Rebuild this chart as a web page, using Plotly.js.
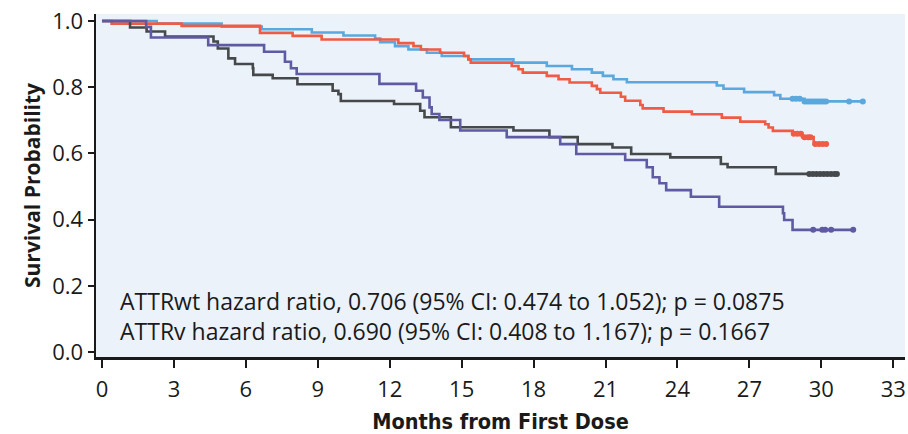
<!DOCTYPE html>
<html>
<head>
<meta charset="utf-8">
<script src="https://cdn.plot.ly/plotly-3.0.1.min.js"></script>
<style>html,body{margin:0;padding:0;background:#fff;}#chart{width:908px;height:434px;}</style>
</head>
<body>
<div id="chart"></div>
<script>
// ---- data ----
const wtTreatTimes = [0, 2.28, 4.99, 6.66, 8.75, 10.07, 11.39, 11.6, 12.22, 12.78, 13.55, 14.17, 15.28, 17.16, 18.55, 19.6, 20.43, 20.89, 21.33, 21.89, 25.64, 25.92, 26.78, 28.03, 28.29, 29.3, 31.73];
const wtTreatSurv  = [1.0, 0.992, 0.983, 0.975, 0.965, 0.956, 0.947, 0.936, 0.924, 0.914, 0.904, 0.894, 0.884, 0.874, 0.864, 0.854, 0.844, 0.834, 0.824, 0.815, 0.805, 0.795, 0.785, 0.776, 0.765, 0.757, 0.757];
const wtTreatCensor = [28.8, 28.95, 29.1, 29.3, 29.4, 29.5, 29.6, 29.7, 29.8, 29.9, 30.0, 30.1, 30.2, 31.16, 31.73];

const wtPlacTimes = [0, 0.4, 3.32, 6.59, 7.95, 9.16, 12.36, 12.99, 13.3, 14.1, 15.1, 15.28, 15.38, 17.09, 17.37, 17.55, 18.55, 19.04, 19.5, 20.43, 20.64, 20.78, 21.64, 21.82, 22.45, 22.55, 23.42, 24.6, 25.85, 26.62, 27.66, 27.8, 27.98, 28.81, 29.2, 29.68, 30.2];
const wtPlacSurv  = [1.0, 0.992, 0.985, 0.964, 0.955, 0.944, 0.933, 0.924, 0.914, 0.904, 0.894, 0.884, 0.874, 0.864, 0.854, 0.844, 0.834, 0.824, 0.814, 0.804, 0.794, 0.783, 0.771, 0.759, 0.746, 0.736, 0.726, 0.718, 0.708, 0.696, 0.688, 0.678, 0.668, 0.659, 0.649, 0.628, 0.628];
const wtPlacCensor = [28.85, 29.0, 29.15, 29.3, 29.45, 29.55, 29.75, 29.9, 30.05, 30.2];

const vTreatTimes = [0, 1.17, 1.86, 2.63, 4.65, 4.83, 5.27, 5.55, 6.29, 6.31, 7.12, 8.15, 9.62, 9.86, 9.96, 12.18, 13.27, 13.45, 14.55, 17.16, 18.66, 19.84, 21.29, 22.07, 23.7, 25.81, 26.09, 28.1, 30.65];
const vTreatSurv  = [1.0, 0.980, 0.968, 0.953, 0.938, 0.917, 0.887, 0.870, 0.857, 0.837, 0.827, 0.809, 0.789, 0.779, 0.758, 0.749, 0.729, 0.709, 0.679, 0.669, 0.649, 0.628, 0.618, 0.598, 0.588, 0.568, 0.558, 0.538, 0.538];
const vTreatCensor = [29.5, 29.65, 29.8, 29.95, 30.1, 30.25, 30.4, 30.55, 30.65];

const vPlacTimes = [0, 1.84, 2.04, 4.43, 6.76, 7.63, 7.88, 8.12, 11.57, 13.1, 13.38, 13.66, 13.75, 14.07, 14.94, 16.88, 19.11, 19.78, 21.82, 22.72, 22.97, 23.25, 23.53, 24.56, 25.74, 28.4, 28.45, 28.8, 31.35];
const vPlacSurv  = [1.0, 0.982, 0.950, 0.927, 0.907, 0.877, 0.857, 0.840, 0.810, 0.789, 0.769, 0.739, 0.719, 0.701, 0.669, 0.649, 0.628, 0.598, 0.580, 0.558, 0.528, 0.510, 0.489, 0.469, 0.439, 0.419, 0.399, 0.369, 0.369];
const vPlacCensor = [29.66, 30.04, 30.16, 30.41, 31.33];

const xTicks = [0, 3, 6, 9, 12, 15, 18, 21, 24, 27, 30, 33];
const yTicks = [0, 0.2, 0.4, 0.6, 0.8, 1.0];
const annotLines = [
  "ATTRwt hazard ratio, 0.706 (95% CI: 0.474 to 1.052); p = 0.0875",
  "ATTRv hazard ratio, 0.690 (95% CI: 0.408 to 1.167); p = 0.1667"
];

// ---- build ----
function survAt(times, surv, t) {
  let v = surv[0];
  for (let i = 0; i < times.length; i++) { if (times[i] <= t) v = surv[i]; }
  return v;
}
const groups = [
  {name: "ATTRwt treated", t: wtTreatTimes, s: wtTreatSurv, c: wtTreatCensor, color: "#5aa8dd"},
  {name: "ATTRwt placebo", t: wtPlacTimes, s: wtPlacSurv, c: wtPlacCensor, color: "#ef5b45"},
  {name: "ATTRv treated", t: vTreatTimes, s: vTreatSurv, c: vTreatCensor, color: "#46494c"},
  {name: "ATTRv placebo", t: vPlacTimes, s: vPlacSurv, c: vPlacCensor, color: "#5f5aa3"}
];
const traces = [];
groups.forEach(g => {
  traces.push({x: g.t, y: g.s, type: "scatter", mode: "lines", name: g.name,
    line: {shape: "hv", color: g.color, width: 2.6}, hoverinfo: "skip"});
  traces.push({x: g.c, y: g.c.map(t => survAt(g.t, g.s, t)), type: "scatter", mode: "markers",
    name: g.name + " censored", marker: {color: g.color, size: 6, symbol: "circle"}, hoverinfo: "skip"});
});

const font = "'Open Sans', 'Noto Sans', sans-serif";
const narrow = "'Liberation Sans Narrow', 'DejaVu Sans Condensed', sans-serif";
const layout = {
  width: 908, height: 434,
  margin: {l: 96, r: 3, t: 14, b: 77},
  paper_bgcolor: "#ffffff",
  plot_bgcolor: "#ebf2fa",
  showlegend: false,
  xaxis: {
    range: [-0.25, 33.49], tickvals: xTicks, ticktext: xTicks.map(String),
    showgrid: false, zeroline: false, showline: true, linecolor: "#1a1a1a", linewidth: 2.5,
    ticks: "outside", ticklen: 8, tickwidth: 2, tickcolor: "#1a1a1a",
    ticklabelstandoff: 3,
    tickfont: {family: font, size: 22, color: "#1a1a1a"},
    title: {text: "<b>Months from First Dose</b>", font: {family: narrow, size: 21.5, color: "#1a1a1a"}, standoff: 13}
  },
  yaxis: {
    range: [-0.015, 1.021], tickvals: yTicks, ticktext: yTicks.map(v => v.toFixed(1)),
    showgrid: false, zeroline: false, showline: true, linecolor: "#1a1a1a", linewidth: 2.5,
    ticks: "outside", ticklen: 6, tickwidth: 2, tickcolor: "#1a1a1a",
    tickfont: {family: font, size: 22, color: "#1a1a1a"},
    title: {text: "<b>Survival Probability</b>", font: {family: font, size: 21, color: "#1a1a1a"}, standoff: 6}
  },
  annotations: [{
    text: annotLines.join("<br>"), xref: "x", yref: "y", x: 0.68, y: 0.108,
    xanchor: "left", yanchor: "middle", align: "left", showarrow: false,
    font: {family: font, size: 23, color: "#1a1a1a"}
  }]
};
Plotly.newPlot("chart", traces, layout, {displayModeBar: false, staticPlot: true});
</script>
</body>
</html>
